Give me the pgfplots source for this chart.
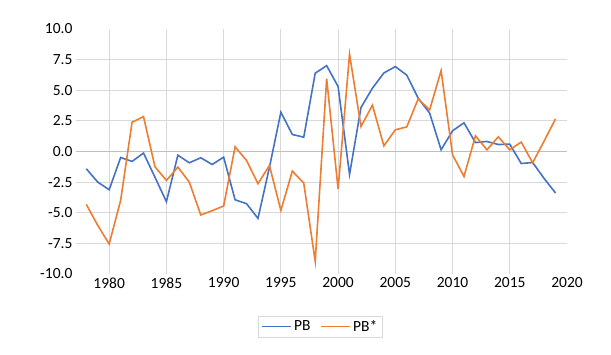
\documentclass[border=0pt]{standalone}
\usepackage{fontspec}
\setmainfont{Carlito}
\usepackage{pgfplots}
\pgfplotsset{compat=1.18}
\definecolor{xlblue}{HTML}{4472C4}
\definecolor{xlorange}{HTML}{ED7D31}
\definecolor{xlgrid}{HTML}{D9D9D9}
\definecolor{xlzero}{HTML}{BFBFBF}

\begin{document}
\begin{tikzpicture}
\path[use as bounding box] (0,0) rectangle (611pt,354pt);
\begin{axis}[
  at={(76pt,80pt)}, anchor=south west,
  scale only axis, width=491pt, height=245pt,
  xmin=1977.1, xmax=2020, ymin=-10, ymax=10,
  axis line style={draw=none},
  major tick style={draw=none},
  xtick={1980,1985,...,2015}, extra x ticks={2020},
  extra x tick style={grid=none},
  ytick={-7.5,-5,-2.5,0,2.5,5,7.5}, extra y ticks={-10,10},
  extra y tick style={grid=none},
  xmajorgrids, ymajorgrids,
  major grid style={color=xlgrid, line width=0.8pt},
  /pgf/number format/assume math mode=true,
  tick label style={font=\fontsize{15.5}{18}\selectfont},
  x tick label style={/pgf/number format/1000 sep={}},
  y tick label style={/pgf/number format/.cd, fixed, fixed zerofill, precision=1},
  legend columns=2,
  legend style={at={(axis description cs:0.4976,-0.215)}, anchor=center,
    draw=xlgrid, font=\fontsize{15.5}{18}\selectfont,
    /tikz/every even column/.append style={column sep=8pt}},
  legend image code/.code={\draw[#1, line width=1.6pt] (0pt,0pt) -- (29pt,0pt);},
]
\draw[color=xlzero, line width=1pt] (axis cs:1977.1,0) -- (axis cs:2020,0);
\addplot[color=xlblue, line width=1.6pt] coordinates {
(1978,-1.41) (1979,-2.50) (1980,-3.12) (1981,-0.49) (1982,-0.81) (1983,-0.13)
(1984,-2.10) (1985,-4.10) (1986,-0.30) (1987,-0.92) (1988,-0.51) (1989,-1.06)
(1990,-0.46) (1991,-3.94) (1992,-4.26) (1993,-5.46) (1994,-1.30) (1995,3.21)
(1996,1.39) (1997,1.17) (1998,6.39) (1999,7.01) (2000,5.30) (2001,-1.87)
(2002,3.59) (2003,5.17) (2004,6.41) (2005,6.93) (2006,6.23) (2007,4.35)
(2008,3.13) (2009,0.14) (2010,1.69) (2011,2.34) (2012,0.73) (2013,0.82)
(2014,0.57) (2015,0.60) (2016,-0.98) (2017,-0.90) (2018,-2.20) (2019,-3.39)
};
\addlegendentry{PB}
\addplot[color=xlorange, line width=1.6pt] coordinates {
(1978,-4.32) (1979,-6.03) (1980,-7.55) (1981,-3.99) (1982,2.39) (1983,2.85)
(1984,-1.25) (1985,-2.36) (1986,-1.27) (1987,-2.50) (1988,-5.18) (1989,-4.83)
(1990,-4.45) (1991,0.38) (1992,-0.73) (1993,-2.63) (1994,-1.14) (1995,-4.81)
(1996,-1.60) (1997,-2.58) (1998,-8.96) (1999,5.95) (2000,-3.07) (2001,7.94)
(2002,2.04) (2003,3.78) (2004,0.46) (2005,1.77) (2006,2.01) (2007,4.30)
(2008,3.40) (2009,6.60) (2010,-0.27) (2011,-2.04) (2012,1.28) (2013,0.14)
(2014,1.20) (2015,0.14) (2016,0.77) (2017,-0.92) (2018,0.85) (2019,2.67)
};
\addlegendentry{PB*}
\end{axis}
\end{tikzpicture}
\end{document}
